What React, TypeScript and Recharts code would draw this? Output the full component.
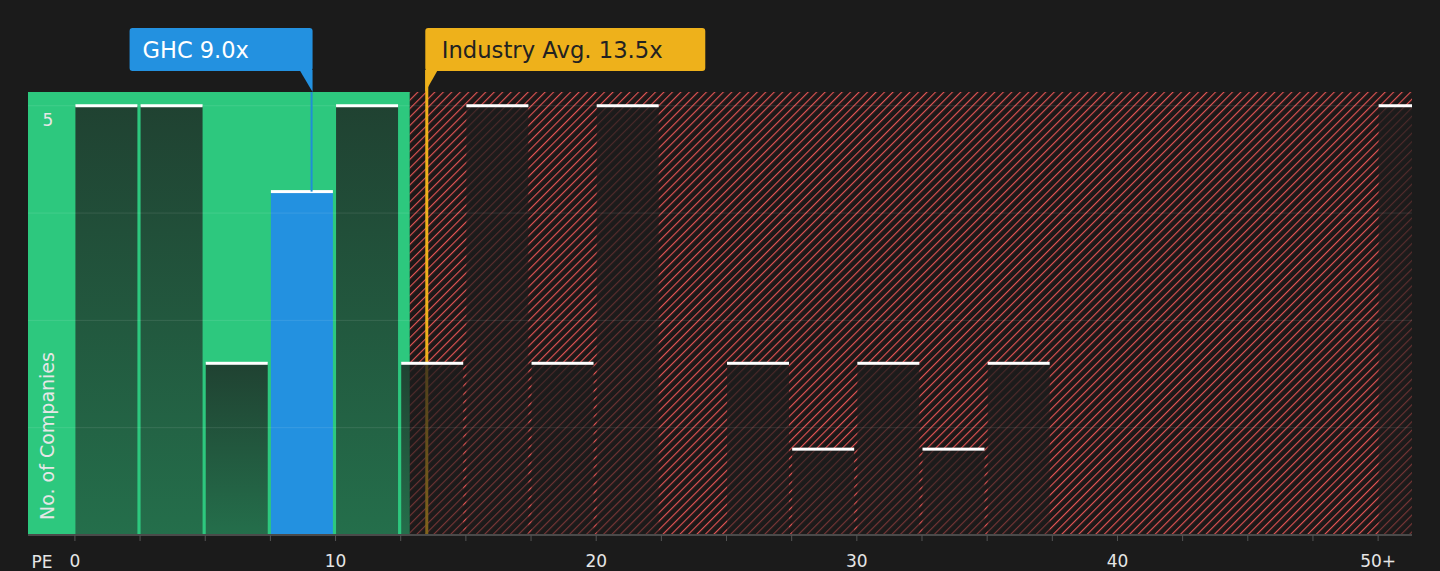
import {
  ComposedChart,
  Bar,
  XAxis,
  YAxis,
  ReferenceArea,
  ReferenceLine,
} from 'recharts'

// PE histogram bins (2.5 wide), last one is the 50+ bucket
const binStarts = [0, 2.5, 5, 7.5, 10, 12.5, 15, 17.5, 20, 22.5, 25, 27.5, 30, 32.5, 35, 37.5, 40, 42.5, 45, 47.5, 50]
const companyCounts = [5, 5, 2, 4, 5, 2, 5, 2, 5, 0, 2, 1, 2, 1, 2, 0, 0, 0, 0, 0, 5]
const binWidth = 2.5

const xTickValues = binStarts
const labelledTicks = [0, 10, 20, 30, 40, 50]
const labelledTickText = ['0', '10', '20', '30', '40', '50+']

const gridValues = [1.25, 2.5, 3.75, 5]
const yTickValues = [0, 1.25, 2.5, 3.75, 5]

const xDomain = [-1.8, 51.3]
const yDomain = [0, 5.16]

const ghcPE = 9.08
const ghcLabel = 'GHC 9.0x'
const industryAvg = 13.5
const industryLabel = 'Industry Avg. 13.5x'
const fairValueEnd = 12.85

const FONT = '"DejaVu Sans", sans-serif'

const data = binStarts.map((start, i) => ({
  start,
  mid: start + binWidth / 2,
  count: companyCounts[i],
}))

function BarShape(props: any) {
  const { x, y, width, height, payload } = props
  if (!height || height <= 0) return null
  const isGhc = payload.start <= ghcPE && ghcPE < payload.start + binWidth
  const bx = x - 1.5
  return (
    <g>
      <rect x={bx} y={y} width={width} height={height} fill={isGhc ? '#2391e0' : 'url(#barShade)'} />
      <rect x={bx} y={y - 1.5} width={width} height={3} fill="#ffffff" />
    </g>
  )
}

function GhcCallout({ viewBox }: any) {
  if (!viewBox) return null
  const lx = viewBox.x
  const top = viewBox.y
  return (
    <g>
      <rect x={lx - 182} y={top - 64} width={183} height={43} rx={3} fill="#2391e0" />
      <polygon points={`${lx - 12},${top - 22} ${lx + 1},${top - 22} ${lx + 1},${top}`} fill="#2391e0" />
      <text x={lx - 169} y={top - 34} fill="#ffffff" fontSize={22.5} fontFamily={FONT}>
        {ghcLabel}
      </text>
    </g>
  )
}

function IndustryCallout({ viewBox }: any) {
  if (!viewBox) return null
  const lx = viewBox.x
  const top = viewBox.y
  return (
    <g>
      <line x1={lx} x2={lx} y1={top - 22} y2={top} stroke="#eeb11b" strokeWidth={3} />
      <rect x={lx - 1.5} y={top - 64} width={280} height={43} rx={3} fill="#eeb11b" />
      <polygon points={`${lx - 1.5},${top - 22} ${lx + 11},${top - 22} ${lx - 1.5},${top}`} fill="#eeb11b" />
      <text x={lx + 15} y={top - 34} fill="#222222" fontSize={22.7} fontFamily={FONT}>
        {industryLabel}
      </text>
    </g>
  )
}

function YTick(props: any) {
  const { x, y, payload } = props
  if (!payload || Math.abs(payload.value - 5) > 1e-6) return <g />
  return (
    <text x={x + 20} y={y + 20} fill="#e6e6e6" fontSize={17} fontFamily={FONT} textAnchor="middle">
      5
    </text>
  )
}

function YLabel(props: any) {
  const vb = props.viewBox
  if (!vb) return null
  const px = vb.x + 27
  const py = vb.y + vb.height - 15
  return (
    <text
      x={px}
      y={py}
      transform={`rotate(-90, ${px}, ${py})`}
      fill="#e6e6e6"
      fontSize={19}
      fontFamily={FONT}
      textAnchor="start"
    >
      No. of Companies
    </text>
  )
}

export default function App() {
  return (
    <div
      style={{
        position: 'absolute',
        left: 0,
        top: 0,
        width: 1440,
        height: 571,
        background: '#1b1b1b',
        overflow: 'hidden',
      }}
    >
      <ComposedChart
        width={1440}
        height={571}
        data={data}
        margin={{ top: 92, right: 28, bottom: 0, left: 27 }}
      >
        <defs>
          <pattern id="hatch" width="6" height="6" patternUnits="userSpaceOnUse" patternTransform="rotate(45)">
            <rect width="6" height="6" fill="#1c1818" />
            <line x1="0" y1="0" x2="0" y2="6" stroke="#e25454" strokeWidth="2.3" />
          </pattern>
          <linearGradient id="barShade" x1="0" y1="0" x2="0" y2="1">
            <stop offset="0%" stopColor="#1c1c1c" stopOpacity={0.78} />
            <stop offset="100%" stopColor="#1c1c1c" stopOpacity={0.52} />
          </linearGradient>
        </defs>
        <ReferenceArea x1={xDomain[0]} x2={fairValueEnd} y1={yDomain[0]} y2={yDomain[1]} fill="#2dc87e" fillOpacity={1} stroke="none" ifOverflow="hidden" />
        <ReferenceArea x1={fairValueEnd} x2={xDomain[1]} y1={yDomain[0]} y2={yDomain[1]} fill="url(#hatch)" fillOpacity={1} stroke="none" ifOverflow="hidden" />
        <ReferenceLine
          x={industryAvg}
          stroke="#eeb11b"
          strokeWidth={3}
          zIndex={250}
          label={<IndustryCallout />}
        />
        <Bar dataKey="count" barSize={62} shape={<BarShape />} isAnimationActive={false} />
        {gridValues.map((v) => (
          <ReferenceLine key={v} y={v} stroke="rgba(255,255,255,0.1)" strokeWidth={1} zIndex={350} />
        ))}
        <ReferenceLine
          segment={[
            { x: ghcPE, y: 4 },
            { x: ghcPE, y: yDomain[1] },
          ]}
          stroke="#1f8fd6"
          strokeWidth={2}
          zIndex={350}
          label={<GhcCallout />}
        />
        <XAxis
          dataKey="mid"
          type="number"
          domain={xDomain}
          allowDataOverflow
          ticks={xTickValues}
          interval={0}
          height={36}
          tickSize={6}
          tickMargin={14}
          axisLine={{ stroke: '#4a4a4a', strokeWidth: 2 }}
          tickLine={{ stroke: '#555555' }}
          tick={{ fill: '#e6e6e6', fontSize: 17, fontFamily: FONT }}
          tickFormatter={(v: number) => {
            const i = labelledTicks.indexOf(v)
            return i >= 0 ? labelledTickText[i] : ''
          }}
          label={{
            content: ({ viewBox }: any) => (
              <text x={viewBox.x + 14} y={viewBox.y + 33} fill="#e6e6e6" fontSize={17} fontFamily={FONT} textAnchor="middle">
                PE
              </text>
            ),
          }}
        />
        <YAxis
          type="number"
          domain={yDomain}
          allowDataOverflow
          ticks={yTickValues}
          interval={0}
          width={1}
          tickSize={0}
          tickMargin={0}
          axisLine={false}
          tickLine={false}
          tick={<YTick />}
          label={<YLabel />}
        />
      </ComposedChart>
    </div>
  )
}
